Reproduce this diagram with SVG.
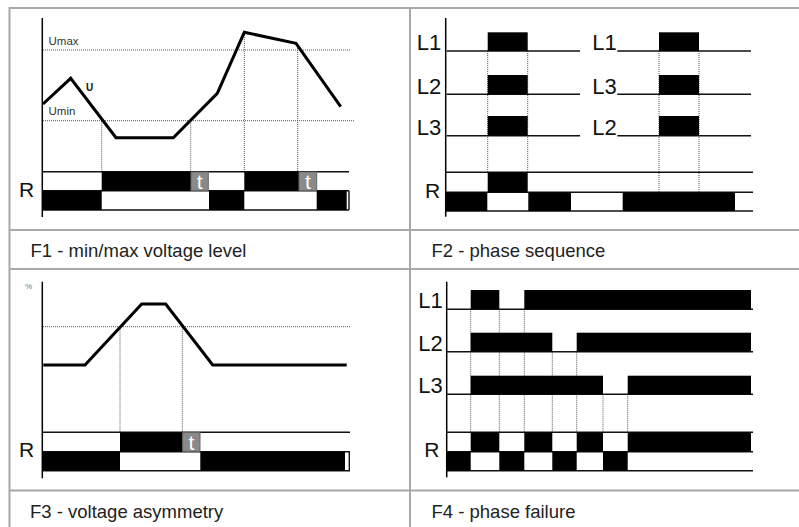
<svg xmlns="http://www.w3.org/2000/svg" width="799" height="527" viewBox="0 0 799 527">
<style>
.grid{stroke:#a8a8a8;stroke-width:2;fill:none}
.ax{stroke:#000;stroke-width:1.5;fill:none}
.sig{stroke:#111;stroke-width:1.4;fill:none}
.dot{stroke:#555;stroke-width:1;stroke-dasharray:1 1;fill:none}
.blk{fill:#000}
.tb{fill:#8a8a8a;stroke:#666;stroke-width:1}
.tt{font-family:"Liberation Sans",Arial,sans-serif;font-size:21px;fill:#fff}
.cur{fill:none;stroke:#000;stroke-width:3;stroke-linejoin:miter}
.cap{font-family:"Liberation Sans",Arial,sans-serif;font-size:18.5px;fill:#222}
.lb{font-family:"Liberation Sans",Arial,sans-serif;font-size:22px;fill:#111}
.rl{font-family:"Liberation Sans",Arial,sans-serif;font-size:21px;fill:#111}
.sm{font-family:"Liberation Sans",Arial,sans-serif;font-size:11.5px;fill:#333}
</style>
<rect width="799" height="527" fill="#fff"/>
<g id="grid" class="grid">
<line x1="9" y1="8" x2="799" y2="8"/>
<line x1="9.5" y1="7" x2="9.5" y2="527"/>
<line x1="410" y1="8" x2="410" y2="527"/>
<line x1="9" y1="230" x2="799" y2="230"/>
<line x1="9" y1="269" x2="799" y2="269"/>
<line x1="9" y1="490.5" x2="799" y2="490.5"/>
</g>
<g id="captions">
<text class="cap" x="30.5" y="257">F1 - min/max voltage level</text>
<text class="cap" x="431.5" y="257">F2 - phase sequence</text>
<text class="cap" x="30" y="518">F3 - voltage asymmetry</text>
<text class="cap" x="431.5" y="518">F4 - phase failure</text>
</g>
<g id="F1">
<line class="ax" x1="42.3" y1="18" x2="42.3" y2="217"/>
<g class="dot">
<line x1="43" y1="50" x2="350" y2="50"/>
<line x1="43" y1="120.7" x2="355" y2="120.7"/>
<line x1="101.7" y1="120.7" x2="101.7" y2="171.7"/>
<line x1="190.7" y1="120.7" x2="190.7" y2="171.7"/>
<line x1="244.3" y1="33" x2="244.3" y2="171.7"/>
<line x1="297.7" y1="44" x2="297.7" y2="171.7"/>
</g>
<text class="sm" x="48.5" y="45">Umax</text>
<text class="sm" x="48.5" y="115">Umin</text>
<text x="86" y="90.5" font-family="Liberation Sans, Arial, sans-serif" font-size="10" font-weight="bold" fill="#111">U</text>
<polyline class="cur" points="43,104 70.7,78.3 116,137.7 173.3,137.7 217.3,93.3 244.3,32.3 296,43.3 340.7,106.7"/>
<g class="sig">
<line x1="43" y1="171.7" x2="349" y2="171.7"/>
<line x1="43" y1="190.7" x2="349" y2="190.7"/>
<line x1="43" y1="210" x2="349" y2="210"/>
<line x1="349" y1="190.7" x2="349" y2="210"/>
</g>
<rect class="blk" x="101.7" y="171.7" width="89.3" height="19"/>
<rect class="blk" x="244.3" y="171.7" width="54.7" height="19"/>
<rect class="tb" x="191" y="172" width="17.3" height="18.5"/>
<rect class="tb" x="299" y="172" width="17.7" height="18.5"/>
<text class="tt" x="199.6" y="189" text-anchor="middle">t</text>
<text class="tt" x="307.8" y="189" text-anchor="middle">t</text>
<rect class="blk" x="43" y="190.7" width="58.7" height="19.3"/>
<rect class="blk" x="209" y="190.7" width="35.3" height="19.3"/>
<rect class="blk" x="316.7" y="190.7" width="30" height="19.3"/>
<text class="rl" x="19" y="197">R</text>
</g>
<g id="F2">
<line class="ax" x1="445.7" y1="18" x2="445.7" y2="216.7"/>
<g class="dot">
<line x1="487.7" y1="51" x2="487.7" y2="172.3"/>
<line x1="527.7" y1="51" x2="527.7" y2="172.3"/>
<line x1="659" y1="51" x2="659" y2="192.3"/>
<line x1="699" y1="51" x2="699" y2="192.3"/>
</g>
<g class="sig">
<line x1="446.7" y1="51" x2="580" y2="51"/>
<line x1="446.7" y1="94.3" x2="580" y2="94.3"/>
<line x1="446.7" y1="135.7" x2="580" y2="135.7"/>
<line x1="617.3" y1="51" x2="751" y2="51"/>
<line x1="617.3" y1="94.3" x2="751" y2="94.3"/>
<line x1="617.3" y1="135.7" x2="751" y2="135.7"/>
<line x1="446" y1="172.3" x2="753" y2="172.3"/>
<line x1="446" y1="192.3" x2="753" y2="192.3"/>
<line x1="446" y1="211" x2="753" y2="211"/>
</g>
<rect class="blk" x="487.7" y="32.3" width="40" height="18.7"/>
<rect class="blk" x="487.7" y="75" width="40" height="19.3"/>
<rect class="blk" x="487.7" y="116" width="40" height="19.7"/>
<rect class="blk" x="659" y="32.3" width="40" height="18.7"/>
<rect class="blk" x="659" y="75" width="40" height="19.3"/>
<rect class="blk" x="659" y="116" width="40" height="19.7"/>
<rect class="blk" x="487.7" y="172.3" width="40" height="20"/>
<rect class="blk" x="446" y="192.3" width="41.3" height="18.7"/>
<rect class="blk" x="528.3" y="192.3" width="42.7" height="18.7"/>
<rect class="blk" x="622.7" y="192.3" width="112.3" height="18.7"/>
<text class="lb" x="416.7" y="50">L1</text>
<text class="lb" x="416.7" y="94">L2</text>
<text class="lb" x="416.7" y="135">L3</text>
<text class="lb" x="592.3" y="50">L1</text>
<text class="lb" x="592.3" y="94">L3</text>
<text class="lb" x="592.3" y="135">L2</text>
<text class="rl" x="425" y="197.5">R</text>
</g>
<g id="F3">
<line class="ax" x1="42.3" y1="281.7" x2="42.3" y2="478.3"/>
<text x="25" y="289" font-family="Liberation Sans, Arial, sans-serif" font-size="8" fill="#777">%</text>
<g class="dot">
<line x1="43" y1="326.7" x2="350" y2="326.7"/>
<line x1="120" y1="326.7" x2="120" y2="432.3"/>
<line x1="182.3" y1="326.7" x2="182.3" y2="432.3"/>
</g>
<polyline class="cur" points="43.3,365 85,365 141.7,304 165.7,304 212.7,365 346.7,365"/>
<g class="sig">
<line x1="43" y1="432.3" x2="350" y2="432.3"/>
<line x1="43" y1="451.7" x2="350" y2="451.7"/>
<line x1="43" y1="470.7" x2="350" y2="470.7"/>
<line x1="349.3" y1="451.7" x2="349.3" y2="470.7"/>
</g>
<rect class="blk" x="120" y="432.3" width="62.7" height="19.4"/>
<rect class="tb" x="182.7" y="432.6" width="17.3" height="18.8"/>
<text class="tt" x="191.3" y="449.8" text-anchor="middle">t</text>
<rect class="blk" x="43" y="451.7" width="77" height="19"/>
<rect class="blk" x="200.3" y="451.7" width="144.7" height="19"/>
<text class="rl" x="19" y="457.3">R</text>
</g>
<g id="F4">
<line class="ax" x1="446.7" y1="281.7" x2="446.7" y2="477.3"/>
<g class="dot">
<line x1="470.7" y1="309.3" x2="470.7" y2="432.3"/>
<line x1="499.3" y1="309.3" x2="499.3" y2="432.3"/>
<line x1="524.3" y1="309.3" x2="524.3" y2="432.3"/>
<line x1="552.3" y1="351.7" x2="552.3" y2="432.3"/>
<line x1="576.7" y1="351.7" x2="576.7" y2="432.3"/>
<line x1="603" y1="394.3" x2="603" y2="432.3"/>
<line x1="627.7" y1="394.3" x2="627.7" y2="432.3"/>
</g>
<g class="sig">
<line x1="446" y1="309.3" x2="753" y2="309.3"/>
<line x1="446" y1="351.7" x2="753" y2="351.7"/>
<line x1="446" y1="394.3" x2="753" y2="394.3"/>
<line x1="446" y1="432.3" x2="753" y2="432.3"/>
<line x1="446" y1="451.7" x2="753" y2="451.7"/>
<line x1="446" y1="470.7" x2="753" y2="470.7"/>
</g>
<rect class="blk" x="470.7" y="290" width="28.6" height="19.3"/>
<rect class="blk" x="524.3" y="290" width="226.7" height="19.3"/>
<rect class="blk" x="470.7" y="332.7" width="81.6" height="19"/>
<rect class="blk" x="576.7" y="332.7" width="174.3" height="19"/>
<rect class="blk" x="470.7" y="375.7" width="132.3" height="18.6"/>
<rect class="blk" x="627.7" y="375.7" width="123.3" height="18.6"/>
<rect class="blk" x="470.7" y="432.3" width="28.6" height="19.4"/>
<rect class="blk" x="524.3" y="432.3" width="28" height="19.4"/>
<rect class="blk" x="576.7" y="432.3" width="26.3" height="19.4"/>
<rect class="blk" x="627.7" y="432.3" width="123.3" height="19.4"/>
<rect class="blk" x="446" y="451.7" width="24.7" height="19"/>
<rect class="blk" x="499.3" y="451.7" width="25" height="19"/>
<rect class="blk" x="552.3" y="451.7" width="24.4" height="19"/>
<rect class="blk" x="603" y="451.7" width="24.7" height="19"/>
<text class="lb" x="418.3" y="308.3">L1</text>
<text class="lb" x="418.3" y="350.7">L2</text>
<text class="lb" x="418.3" y="393.3">L3</text>
<text class="rl" x="424.3" y="457.3">R</text>
</g>
</svg>
